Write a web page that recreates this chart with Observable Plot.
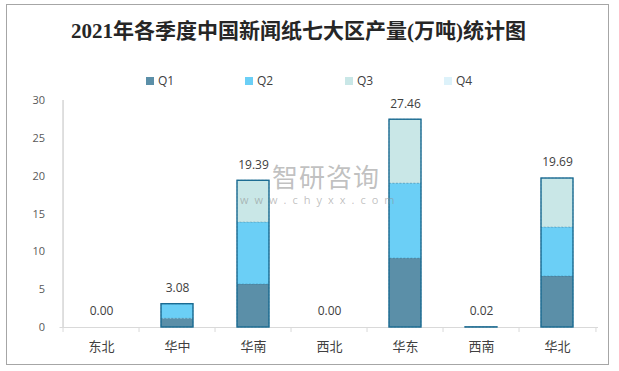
<!DOCTYPE html>
<html><head><meta charset="utf-8">
<script src="https://cdn.jsdelivr.net/npm/d3@7"></script>
<script src="https://cdn.jsdelivr.net/npm/@observablehq/plot@0.6"></script>
<style>
body{margin:0;background:#fff;}
#wrap{position:relative;width:619px;height:371px;overflow:hidden;background:#fff;font-family:'Open Sans','Noto Sans CJK SC',sans-serif;}
#border{position:absolute;left:6px;top:4px;width:603px;height:361px;border:1px solid #a6a6a6;box-sizing:border-box;}
#title{position:absolute;left:0;width:597px;top:18px;text-align:center;font-family:'Liberation Serif','Noto Sans CJK SC',serif;font-weight:bold;font-size:21px;line-height:26px;color:#262626;white-space:nowrap;}
.leg{position:absolute;top:73px;height:16px;font-size:12px;line-height:16px;color:#404040;white-space:nowrap;}
.leg span.sw{display:inline-block;width:8px;height:8px;margin-right:4px;vertical-align:0px;}
#chart{position:absolute;left:0;top:0;}
#wm1{position:absolute;left:272px;top:163px;font-size:26px;line-height:26px;height:26px;color:rgba(140,140,140,0.55);font-family:'Noto Sans CJK SC',sans-serif;letter-spacing:1px;}
#wm2{position:absolute;left:240px;top:194px;font-size:11px;line-height:12px;height:12px;color:rgba(140,140,140,0.55);letter-spacing:6px;}
g[aria-label^="x-axis"] text{font-size:13px;fill:#404040;}
g[aria-label^="y-axis"] text{font-size:11px;fill:#595959;}
</style>
</head><body>
<div id="wrap">
  <div id="border"></div>
  <div id="title">2021年各季度中国新闻纸七大区产量(万吨)统计图</div>
  <div id="chart"></div>
  <div id="legend"></div>
  <div id="wm1">智研咨询</div>
  <div id="wm2">www.chyxx.com</div>
</div>
<script>
const regions = ["东北","华中","华南","西北","华东","西南","华北"];
const quarters = ["Q1","Q2","Q3","Q4"];
const q1 = [0, 1.15, 5.68, 0, 9.11, 0.02, 6.74];
const q2 = [0, 1.93, 8.19, 0, 9.91, 0, 6.47];
const q3 = [0, 0, 5.52, 0, 8.44, 0, 6.48];
const q4 = [0, 0, 0, 0, 0, 0, 0];
const totals = [0.00, 3.08, 19.39, 0.00, 27.46, 0.02, 19.69];
const colors = ["#5b8fa8", "#6bcff6", "#c9e7e7", "#ddf2fa"];
const yTicks = [0, 5, 10, 15, 20, 25, 30];

const series = [q1, q2, q3, q4];
const long = quarters.flatMap((q, qi) => regions.map((r, i) => ({region: r, quarter: q, value: series[qi][i]})));
const tot = regions.map((r, i) => ({region: r, total: totals[i]}));

const W = 619, H = 371, ML = 59.5, MR = 21, MT = 100, MB = 44;
const step = (W - ML - MR) / regions.length;
const plotH = H - MT - MB;

const chart = Plot.plot({
  width: W, height: H,
  marginLeft: ML, marginRight: MR, marginTop: MT, marginBottom: MB,
  style: {fontFamily: "'Open Sans','Noto Sans CJK SC',sans-serif", fontSize: "11px", color: "#404040", background: "transparent"},
  x: {domain: regions, paddingInner: 0.584, paddingOuter: 0.292, align: 0.5, tickSize: 0, tickPadding: 14, label: null},
  y: {domain: [0, 30], ticks: yTicks, tickSize: 0, tickPadding: 15, label: null},
  color: {domain: quarters, range: colors},
  marks: [
    Plot.ruleY([0], {stroke: "#d9d9d9"}),
    Plot.tickX([regions[0]], {x: d => d, dx: -step / 2, stroke: "#bfbfbf"}),
    Plot.tickX(regions, {x: d => d, dx: -step / 2, insetTop: plotH, insetBottom: -5, stroke: "#d9d9d9"}),
    Plot.tickX([regions[regions.length - 1]], {x: d => d, dx: step / 2, insetTop: plotH, insetBottom: -5, stroke: "#d9d9d9"}),
    Plot.barY(long, {filter: d => d.value > 0, x: "region", y: "value", fill: "quarter", stroke: "#1a5f80", strokeOpacity: 0.4, strokeWidth: 0.7, strokeDasharray: "2 1.5"}),
    Plot.barY(tot, {filter: d => d.total > 0, x: "region", y: "total", fill: "none", stroke: "#1b6b92", strokeWidth: 1.4}),
    Plot.text(tot, {x: "region", y: "total", text: d => d.total.toFixed(2), dy: -16, fontSize: 12, fill: "#404040"})
  ]
});
document.getElementById("chart").appendChild(chart);

const legend = document.getElementById("legend");
const legX = [146, 245, 345, 444];
quarters.forEach((q, i) => {
  const el = document.createElement("div");
  el.className = "leg";
  el.style.left = legX[i] + "px";
  el.innerHTML = `<span class="sw" style="background:${colors[i]}"></span>${q}`;
  legend.appendChild(el);
});
</script>
</body></html>
